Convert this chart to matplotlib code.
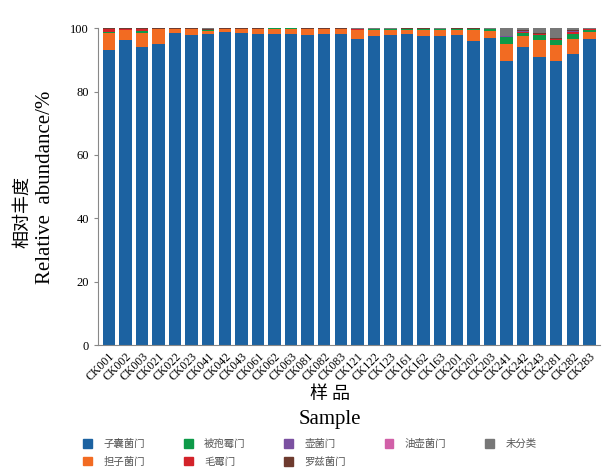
import numpy as np
import matplotlib.pyplot as plt
from matplotlib.patches import Patch

plt.rcParams['font.family'] = ['Liberation Serif', 'Noto Sans CJK SC']

samples = ['CK001', 'CK002', 'CK003', 'CK021', 'CK022', 'CK023', 'CK041', 'CK042',
           'CK043', 'CK061', 'CK062', 'CK063', 'CK081', 'CK082', 'CK083', 'CK121',
           'CK122', 'CK123', 'CK161', 'CK162', 'CK163', 'CK201', 'CK202', 'CK203',
           'CK241', 'CK242', 'CK243', 'CK281', 'CK282', 'CK283']

# relative abundance (%) per phylum
ascomycota = [93.0, 96.2, 94.0, 95.0, 98.4, 97.8, 98.0, 98.7, 98.4, 98.2, 98.0, 98.0,
              97.9, 98.0, 98.2, 96.5, 97.6, 97.8, 98.3, 97.6, 97.6, 97.9, 96.0, 96.8,
              89.5, 94.0, 91.0, 89.5, 92.0, 96.5]
basidiomycota = [5.4, 3.2, 4.6, 4.6, 1.2, 1.8, 1.2, 0.9, 1.2, 1.5, 1.8, 1.8,
                 1.7, 1.8, 1.6, 2.8, 1.9, 1.7, 1.2, 1.9, 1.8, 1.6, 3.4, 2.4,
                 5.6, 3.5, 5.3, 5.3, 4.5, 2.3]
mortierellomycota = [0.5, 0.1, 0.4, 0.1, 0.1, 0.1, 0.1, 0.1, 0.1, 0.1, 0.1, 0.1,
                     0.1, 0.0, 0.0, 0.2, 0.1, 0.1, 0.1, 0.1, 0.2, 0.2, 0.3, 0.4,
                     2.0, 1.0, 1.6, 1.6, 1.8, 0.6]
mucoromycota = [0.8, 0.1, 0.7, 0.1, 0.1, 0.1, 0.1, 0.1, 0.1, 0.0, 0.0, 0.0,
                0.1, 0.0, 0.0, 0.1, 0.1, 0.1, 0.2, 0.2, 0.1, 0.1, 0.1, 0.1,
                0.1, 0.4, 0.3, 0.1, 0.6, 0.2]
chytridiomycota = [0.0, 0.0, 0.0, 0.0, 0.0, 0.0, 0.1, 0.0, 0.0, 0.0, 0.0, 0.0,
                   0.0, 0.0, 0.0, 0.0, 0.0, 0.0, 0.0, 0.0, 0.0, 0.0, 0.0, 0.0,
                   0.2, 0.1, 0.1, 0.2, 0.2, 0.0]
rozellomycota = [0.2, 0.3, 0.2, 0.1, 0.1, 0.1, 0.3, 0.1, 0.1, 0.1, 0.0, 0.0,
                 0.1, 0.1, 0.1, 0.1, 0.1, 0.1, 0.1, 0.1, 0.1, 0.1, 0.1, 0.1,
                 0.2, 0.3, 0.2, 0.1, 0.4, 0.2]
olpidiomycota = [0.0] * 30
unclassified = [0.1, 0.1, 0.1, 0.1, 0.1, 0.1, 0.2, 0.1, 0.1, 0.1, 0.1, 0.1,
                0.1, 0.1, 0.1, 0.3, 0.2, 0.2, 0.1, 0.1, 0.2, 0.1, 0.1, 0.2,
                2.4, 0.7, 1.5, 3.2, 0.5, 0.2]

names = ['子囊菌门', '担子菌门', '被孢霉门', '毛霉门', '壶菌门', '罗兹菌门', '油壶菌门', '未分类']
series = [ascomycota, basidiomycota, mortierellomycota, mucoromycota,
          chytridiomycota, rozellomycota, olpidiomycota, unclassified]
colors = ['#1c62a1', '#f26b22', '#0d9a48', '#d3232a', '#7b51a1', '#6e3b2f', '#d160a8', '#777777']

fig = plt.figure(figsize=(6.05, 4.69), dpi=100)
ax = fig.add_axes([0.162, 0.264, 0.830, 0.676])

x = np.arange(len(samples))
bottom = np.zeros(len(samples))
for vals, c in zip(series, colors):
    ax.bar(x, vals, 0.75, bottom=bottom, color=c, linewidth=0)
    bottom += np.array(vals)

ax.set_ylim(0, 100)
ax.set_xlim(-0.65, len(samples) - 0.35)
ax.set_yticks([0, 20, 40, 60, 80, 100])
ax.set_xticks(x)
ax.set_xticklabels(samples, rotation=45, ha='right', rotation_mode='anchor', fontsize=8.5)
ax.tick_params(axis='x', length=0, pad=4)
ax.tick_params(axis='y', labelsize=9, length=3, color='#888888')
for s in ['top', 'right']:
    ax.spines[s].set_visible(False)
for s in ['left', 'bottom']:
    ax.spines[s].set_color('#888888')

fig.text(0.545, 0.160, '样 品', ha='center', va='center', fontsize=13, family='Noto Sans CJK SC')
fig.text(0.545, 0.106, 'Sample', ha='center', va='center', fontsize=15)
fig.text(0.036, 0.548, '相对丰度', ha='center', va='center', rotation=90, fontsize=13,
         family='Noto Sans CJK SC')
fig.text(0.075, 0.6, 'Relative  abundance/%', ha='center', va='center', rotation=90, fontsize=15)

handles = [Patch(color=c, label=n) for n, c in zip(names, colors)]
fig.legend(handles=handles, ncol=5, loc='upper left', bbox_to_anchor=(0.138, 0.064),
           frameon=False, handlelength=0.85, handleheight=0.85,
           columnspacing=3.7, handletextpad=1.1, labelspacing=0.75,
           borderpad=0, borderaxespad=0,
           prop={'family': 'Noto Sans CJK SC', 'size': 7.5}, labelcolor='#555555')

plt.savefig('out.png', dpi=100)
